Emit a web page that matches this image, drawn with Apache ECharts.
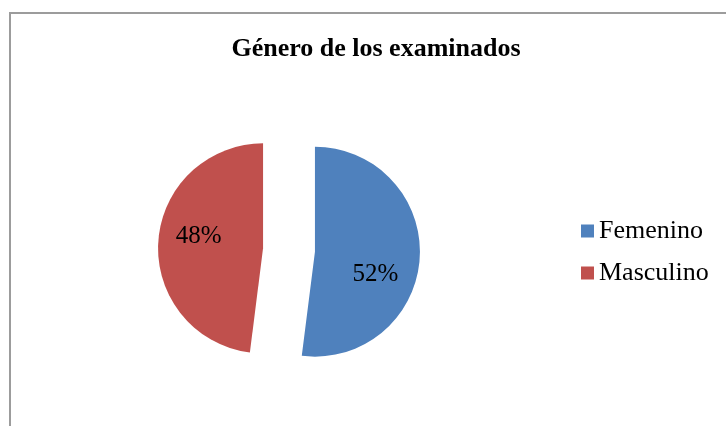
<!DOCTYPE html>
<html>
<head>
<meta charset="utf-8">
<script src="https://cdn.jsdelivr.net/npm/echarts@6/dist/echarts.min.js"></script>
<style>
  html, body { margin: 0; padding: 0; overflow: hidden; background: #fff; }
  #frame { position: absolute; left: 9px; top: 12px; width: 800px; height: 500px;
           border-left: 2px solid #9c9c9c; border-top: 2px solid #9c9c9c; }
  #chart { position: absolute; left: 0; top: 0; width: 726px; height: 426px; }
</style>
</head>
<body>
<div id="frame"></div>
<div id="chart"></div>
<script>
// datos del gráfico
var categorias = ['Femenino', 'Masculino'];
var valores = [52, 48];
var colores = ['#4F81BD', '#C0504D'];

var serif = '"Liberation Serif", "Times New Roman", serif';

var chart = echarts.init(document.getElementById('chart'), null, {
  width: 726,
  height: 426
});

var datos = categorias.map(function (nombre, i) {
  return {
    name: nombre,
    value: valores[i],
    selected: true,
    itemStyle: { color: colores[i] }
  };
});

var option = {
  animation: false,
  title: {
    text: 'Género de los examinados',
    left: 371,
    top: 31,
    textAlign: 'center',
    textStyle: {
      fontFamily: serif,
      fontWeight: 'bold',
      fontSize: 26,
      color: '#000'
    }
  },
  legend: {
    orient: 'vertical',
    left: 576,
    top: 213,
    icon: 'rect',
    itemWidth: 13,
    itemHeight: 13,
    itemGap: 16,
    selectedMode: false,
    data: categorias,
    textStyle: {
      fontFamily: serif,
      fontSize: 26,
      color: '#000'
    }
  },
  series: [{
    type: 'pie',
    center: [289, 250],
    radius: 105,
    startAngle: 90,
    clockwise: true,
    selectedMode: 'multiple',
    selectedOffset: 26,
    emphasis: { disabled: true },
    label: {
      show: true,
      position: 'inside',
      formatter: '{c}%',
      fontFamily: serif,
      fontSize: 25,
      color: '#000'
    },
    labelLine: { show: false },
    // Excel coloca las etiquetas un poco distinto
    labelLayout: function (params) {
      return params.dataIndex === 0 ? { dx: 5, dy: 19 } : { dx: -9, dy: -8 };
    },
    data: datos
  }]
};

chart.setOption(option);
</script>
</body>
</html>
